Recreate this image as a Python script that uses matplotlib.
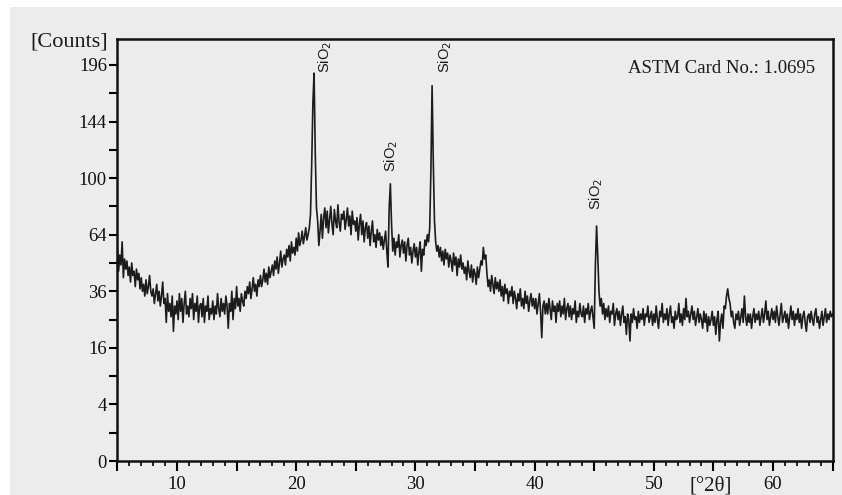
import numpy as np
import matplotlib.pyplot as plt
from matplotlib.patches import Rectangle

# scan grid (deg 2theta) and counts, 10 points per degree
scan_start = 5.0
scan_step = 0.1
counts = [
    56, 45, 53, 48, 60, 42, 51, 46, 50, 43,   # 5
    47, 40, 49, 43, 45, 38, 46, 41, 44, 37,   # 6
    42, 36, 39, 34, 41, 35, 38, 43, 36, 34,   # 7
    37, 31, 35, 39, 32, 36, 30, 34, 40, 31,   # 8
    33, 24, 35, 28, 31, 26, 34, 21, 30, 27,   # 9
    32, 25, 35, 28, 33, 24, 31, 36, 27, 30,   # 10
    26, 33, 29, 35, 25, 31, 28, 34, 24, 30,   # 11
    31, 26, 33, 24, 30, 28, 34, 25, 29, 27,   # 12
    32, 25, 30, 27, 35, 29, 26, 33, 28, 31,   # 13
    27, 34, 30, 22, 31, 28, 36, 25, 33, 29,   # 14
    38, 30, 33, 28, 35, 32, 30, 36, 33, 38,   # 15
    35, 40, 33, 37, 42, 36, 39, 34, 41, 38,   # 16
    43, 38, 41, 46, 40, 44, 39, 47, 42, 45,   # 17
    48, 43, 50, 46, 52, 44, 49, 55, 47, 51,   # 18
    53, 48, 56, 52, 58, 50, 60, 54, 57, 53,   # 19
    62, 55, 65, 58, 61, 66, 59, 63, 68, 61,   # 20
    64, 68, 76, 110, 160, 188, 118, 80, 72, 58,   # 21
    66, 76, 62, 74, 80, 68, 78, 65, 73, 81,   # 22
    70, 64, 79, 72, 68, 82, 71, 66, 76, 73,   # 23
    78, 67, 73, 80, 69, 75, 64, 78, 70, 72,   # 24
    66, 74, 61, 70, 76, 64, 72, 60, 68, 71,   # 25
    62, 69, 58, 66, 72, 60, 64, 57, 67, 61,   # 26
    65, 58, 63, 56, 61, 66, 55, 47, 80, 96,   # 27
    70, 55, 62, 53, 60, 57, 64, 52, 58, 61,   # 28
    54, 60, 50, 58, 62, 53, 57, 49, 55, 59,   # 29
    52, 57, 48, 55, 60, 45, 56, 53, 61, 58,   # 30
    64, 60, 68, 105, 176, 112, 72, 60, 55, 58,   # 31
    52, 57, 50, 55, 48, 56, 51, 54, 47, 53,   # 32
    50, 45, 54, 48, 52, 43, 51, 47, 53, 46,   # 33
    49, 44, 47, 41, 50, 45, 42, 48, 40, 46,   # 34
    44, 39, 47, 42, 46, 50, 48, 57, 51, 53,   # 35
    44, 38, 41, 36, 43, 39, 35, 42, 37, 40,   # 36
    36, 41, 34, 38, 32, 39, 35, 37, 31, 36,   # 37
    34, 38, 31, 36, 33, 29, 35, 32, 37, 30,   # 38
    33, 29, 36, 31, 34, 28, 32, 35, 30, 33,   # 39
    29, 33, 27, 31, 35, 28, 19, 30, 32, 27,   # 40
    31, 27, 33, 29, 25, 32, 28, 30, 24, 31,   # 41
    28, 32, 26, 30, 27, 33, 25, 29, 31, 26,   # 42
    30, 25, 29, 27, 32, 24, 28, 26, 31, 27,   # 43
    26, 30, 24, 29, 27, 31, 25, 28, 30, 26,   # 44
    22, 48, 69, 52, 36, 30, 33, 27, 31, 25,   # 45
    29, 26, 30, 24, 28, 27, 31, 23, 27, 29,   # 46
    25, 28, 23, 27, 30, 24, 26, 20, 27, 25,   # 47
    18, 27, 24, 29, 25, 26, 22, 28, 24, 27,   # 48
    25, 29, 23, 27, 26, 30, 24, 26, 28, 23,   # 49
    27, 24, 30, 25, 22, 28, 26, 31, 24, 27,   # 50
    25, 29, 23, 27, 30, 24, 26, 22, 28, 25,   # 51
    26, 31, 24, 27, 23, 29, 25, 33, 26, 28,   # 52
    24, 27, 30, 25, 28, 23, 26, 29, 24, 27,   # 53
    25, 22, 28, 24, 27, 21, 26, 23, 25, 28,   # 54
    23, 26, 20, 25, 28, 18, 24, 27, 22, 30,   # 55
    29, 34, 37, 33, 31, 26, 28, 24, 22, 27,   # 56
    25, 28, 23, 26, 29, 24, 34, 26, 23, 27,   # 57
    24, 27, 22, 26, 29, 24, 27, 25, 28, 23,   # 58
    26, 29, 24, 27, 32, 25, 28, 23, 26, 29,   # 59
    25, 28, 24, 30, 26, 23, 27, 31, 24, 26,   # 60
    28, 24, 27, 22, 26, 30, 25, 28, 23, 27,   # 61
    25, 29, 24, 27, 22, 26, 28, 24, 21, 26,   # 62
    27, 24, 28, 25, 23, 27, 29, 24, 26, 22,   # 63
    25, 28, 23, 26, 29, 24, 27, 25, 28, 26,   # 64
    27,                                       # 65
]
two_theta = scan_start + scan_step * np.arange(len(counts))

# peak labels: x position and the count level where the label starts
label_x = [22.4, 27.95, 32.5, 45.15]
label_y = [188, 104, 188, 79]
label_text = "SiO$_2$"

y_ticks = [0, 4, 16, 36, 64, 100, 144, 196]
y_minor = [1, 9, 25, 49, 81, 121, 169]
x_ticks = [10, 20, 30, 40, 50, 60]

bg = "#ececec"
serif = ["Liberation Serif", "DejaVu Serif"]

fig = plt.figure(figsize=(8.42, 4.95), dpi=100, facecolor=bg)
# thin white strips along the top and left edge of the original image
fig.patches.append(Rectangle((0, 1 - 7 / 495), 1, 7 / 495, transform=fig.transFigure,
                             facecolor="white", edgecolor="none", zorder=-5))
fig.patches.append(Rectangle((0, 0), 10 / 842, 1, transform=fig.transFigure,
                             facecolor="white", edgecolor="none", zorder=-5))
ax = fig.add_axes([117.4 / 842, 1 - 461 / 495, (832.6 - 117.4) / 842, (461 - 39) / 495])
ax.set_facecolor(bg)

ax.set_yscale("function", functions=(lambda v: np.sqrt(np.clip(v, 0, None)), np.square))
ax.plot(two_theta, counts, color="#1c1c1c", lw=1.2)

ax.set_xlim(5, 65)
ax.set_ylim(0, 222.5)

ax.set_xticks(np.arange(5, 66, 5))
ax.set_xticklabels([str(t) if t in x_ticks else "" for t in range(5, 66, 5)])
ax.set_xticks(np.arange(5, 66, 1), minor=True)
ax.set_yticks(y_ticks)
ax.set_yticklabels([str(t) for t in y_ticks])
ax.set_yticks(y_minor, minor=True)

ax.tick_params(axis="x", which="major", length=7, width=1.5, direction="out", pad=4)
ax.tick_params(axis="x", which="minor", length=3.5, width=1.2, direction="out")
ax.tick_params(axis="y", which="both", length=6, width=1.5, direction="out", pad=1.5)
for lab in ax.get_xticklabels() + ax.get_yticklabels():
    lab.set_fontfamily(serif)
    lab.set_fontsize(13.5)
    lab.set_color("#111111")

for s in ax.spines.values():
    s.set_linewidth(1.8)
    s.set_color("#111111")

for x, y in zip(label_x, label_y):
    ax.text(x, y, label_text, rotation=90, ha="center", va="bottom",
            fontsize=10.5, family=["Liberation Sans", "DejaVu Sans"], color="#1a1a1a")

ax.text(0.975, 0.919, "ASTM Card No.: 1.0695", transform=ax.transAxes, ha="right",
        va="baseline", fontsize=13.5, family=serif, color="#1a1a1a")

fig.text(108 / 842, 1 - 47 / 495, "[Counts]", ha="right", va="baseline",
         fontsize=16, family=serif, color="#1a1a1a")
fig.text(711 / 842, 1 - 490 / 495, "[°2θ]", ha="center", va="baseline",
         fontsize=15, family=serif, color="#1a1a1a")

fig.savefig("out.png", dpi=100, facecolor=bg)
